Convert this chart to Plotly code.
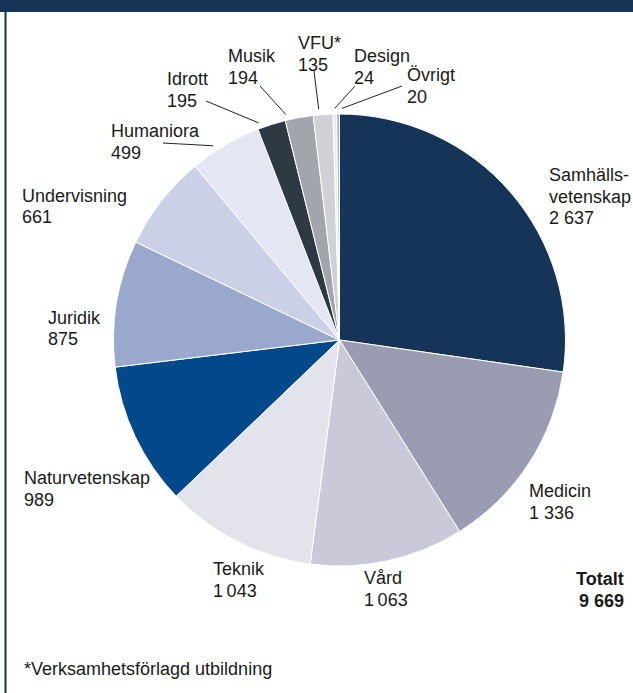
import math
import plotly.graph_objects as go

# ---------------- data ----------------
categories = ["Samhällsvetenskap", "Medicin", "Vård", "Teknik", "Naturvetenskap",
              "Juridik", "Undervisning", "Humaniora", "Idrott", "Musik",
              "VFU*", "Design", "Övrigt"]
values = [2637, 1336, 1063, 1043, 989, 875, 661, 499, 195, 194, 135, 24, 20]
label_names = [["Samhälls-", "vetenskap"], ["Medicin"], ["Vård"], ["Teknik"],
               ["Naturvetenskap"], ["Juridik"], ["Undervisning"], ["Humaniora"],
               ["Idrott"], ["Musik"], ["VFU*"], ["Design"], ["Övrigt"]]
value_labels = ["2 637", "1 336", "1\u2009063", "1\u2009043", "989", "875", "661",
                "499", "195", "194", "135", "24", "20"]
total_label = ["Totalt", "9 669"]
footnote = "*Verksamhetsförlagd utbildning"

# ---------------- style / layout ----------------
colors = ["#163457", "#9a9cb1", "#c9c9d9", "#e2e3eb", "#02498c", "#9aa8cd",
          "#cad0e6", "#e5e6f4", "#2e3944", "#a2a5ab", "#cfd1d6", "#e9ebef", "#a9b9dc"]
W, H = 633, 693
CX, CY, R = 339.5, 340.0, 226.0
FONT = "Liberation Sans, Arial, sans-serif"
TXT = "#1a1a1a"
NAVY = "#163457"
LINE_PITCH = 21.5

# label text anchor (left x, first line centre y) in pixels
label_pos = [(547, 175), (527, 491), (362, 578), (211, 569), (22, 478),
             (46, 318), (20, 196), (109, 131), (165, 79), (226, 56),
             (296, 43), (352, 56), (405, 75)]
# leader line start points (near labels); None = no leader
leader_start = [None, None, None, None, None, None, None,
                (163, 143), (206, 101), (260, 86), (314, 71), (355, 86), (402, 86)]
# small angular nudge (degrees) of where each leader meets the pie edge
leader_nudge = [0, 0, 0, 0, 0, 0, 0, -2.6, -2.9, -3.1, -1.0, 0.0, 1.0]


def px(x):
    return x / W


def py(y):
    return 1 - y / H


fig = go.Figure(go.Pie(
    labels=categories, values=values, sort=False, direction="clockwise",
    rotation=0, textinfo="none", hoverinfo="label+value",
    marker=dict(colors=colors, line=dict(color="white", width=1)),
    domain=dict(x=[px(CX - R), px(CX + R)], y=[py(CY + R), py(CY - R)]),
    showlegend=False,
))

annotations = []
shapes = []

for i, (names, val) in enumerate(zip(label_names, value_labels)):
    lx, ly = label_pos[i]
    for j, line in enumerate(names + [val]):
        annotations.append(dict(
            x=px(lx), y=py(ly + j * LINE_PITCH), xref="paper", yref="paper",
            text=line, showarrow=False, xanchor="left", yanchor="middle",
            font=dict(family=FONT, size=18, color=TXT)))

# leader lines from label to slice edge (slice angle computed from data)
total = sum(values)
cum = 0
for i, v in enumerate(values):
    mid = (cum + v / 2) / total * 2 * math.pi + math.radians(leader_nudge[i])
    cum += v
    if leader_start[i] is None:
        continue
    ex = CX + R * 1.025 * math.sin(mid)
    ey = CY - R * 1.025 * math.cos(mid)
    sx, sy = leader_start[i]
    shapes.append(dict(type="line", xref="paper", yref="paper",
                       x0=px(sx), y0=py(sy), x1=px(ex), y1=py(ey),
                       line=dict(color="#222222", width=1)))

for j, line in enumerate(total_label):
    annotations.append(dict(
        x=px(626), y=py(579 + j * LINE_PITCH), xref="paper", yref="paper",
        text=f"<b>{line}</b>", showarrow=False, xanchor="right", yanchor="middle",
        font=dict(family=FONT, size=18, color=TXT)))

annotations.append(dict(
    x=px(22), y=py(669), xref="paper", yref="paper", text=footnote,
    showarrow=False, xanchor="left", yanchor="middle",
    font=dict(family=FONT, size=18, color=TXT)))

# frame: top band and left rule
shapes.append(dict(type="rect", xref="paper", yref="paper", x0=0, x1=1,
                   y0=py(12), y1=1, fillcolor=NAVY, line=dict(width=0), layer="below"))
shapes.append(dict(type="line", xref="paper", yref="paper", x0=px(5.5), x1=px(5.5),
                   y0=0, y1=py(12), line=dict(color=NAVY, width=2)))

fig.update_layout(
    width=W, height=H, margin=dict(l=0, r=0, t=0, b=0),
    paper_bgcolor="white", plot_bgcolor="white",
    annotations=annotations, shapes=shapes,
)

fig.write_html(
    "out.html",
    config={"displayModeBar": False},
    post_script="document.body.style.margin='0';document.body.style.overflow='hidden';",
)
